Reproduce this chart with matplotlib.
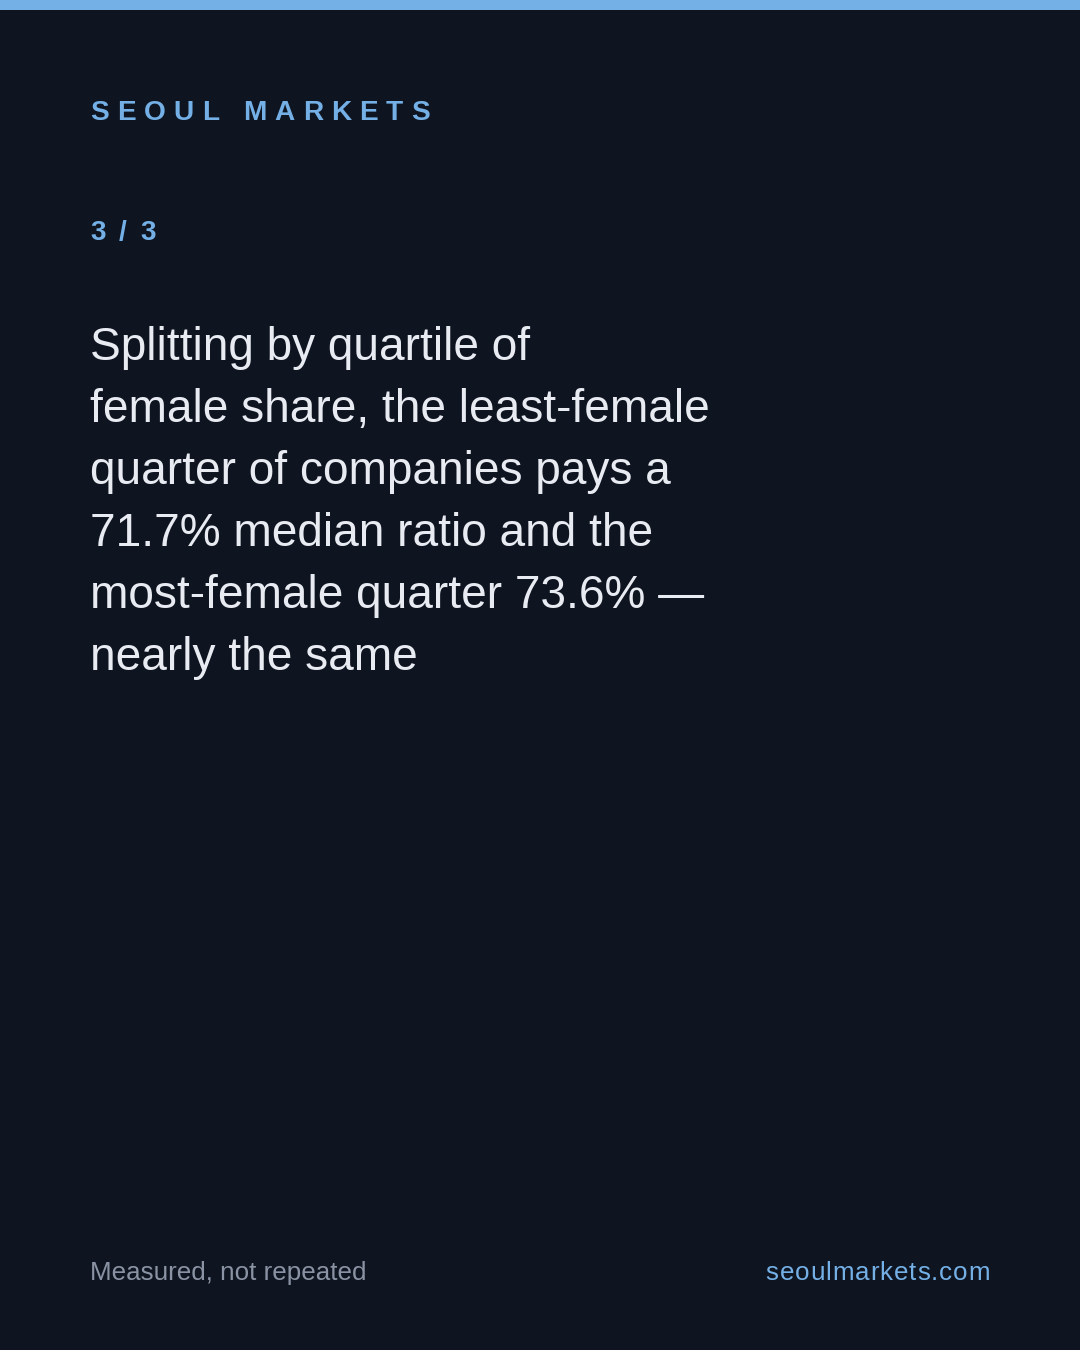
import matplotlib
matplotlib.use("Agg")
import matplotlib.pyplot as plt

# ---- content ----
brand = "SEOUL MARKETS"
page_label = "3 / 3"
body_lines = [
    "Splitting by quartile of",
    "female share, the least-female",
    "quarter of companies pays a",
    "71.7% median ratio and the",
    "most-female quarter 73.6% \u2014",
    "nearly the same",
]
footer_left = "Measured, not repeated"
footer_right = "seoulmarkets.com"

BG = "#0e1420"
ACCENT = "#74b0e6"
TEXT = "#e8ebf1"
MUTED = "#8a93a3"
FONT = "Liberation Sans"

W, H = 1080, 1350
fig = plt.figure(figsize=(W / 72, H / 72), dpi=72)
fig.patch.set_facecolor(BG)
ax = fig.add_axes([0, 0, 1, 1])
ax.set_xlim(0, W)
ax.set_ylim(H, 0)
ax.axis("off")
ax.set_facecolor(BG)

# top accent bar
ax.add_patch(plt.Rectangle((0, 0), W, 10, color=ACCENT, lw=0))

fig.canvas.draw()
renderer = fig.canvas.get_renderer()


def spaced_text(x, y, s, size, weight, color, spacing, ha="left"):
    """Draw text with letter spacing (in px) char by char."""
    widths = []
    for ch in s:
        if ch == " ":
            t = ax.text(0, 0, "a a", fontsize=size, fontweight=weight, family=FONT)
            t2 = ax.text(0, 0, "aa", fontsize=size, fontweight=weight, family=FONT)
            w = t.get_window_extent(renderer).width - t2.get_window_extent(renderer).width
            t.remove(); t2.remove()
        else:
            t = ax.text(0, 0, ch, fontsize=size, fontweight=weight, family=FONT)
            w = t.get_window_extent(renderer).width
            t.remove()
        widths.append(w)
    total = sum(widths) + spacing * (len(s) - 1)
    cx = x if ha == "left" else x - total
    for ch, w in zip(s, widths):
        if ch != " ":
            ax.text(cx, y, ch, fontsize=size, fontweight=weight, color=color,
                    family=FONT, va="baseline", ha="left")
        cx += w + spacing


spaced_text(90, 120, brand, 28, "bold", ACCENT, 8.1)
spaced_text(90, 240, page_label, 28, "bold", ACCENT, 2.8)

for i, line in enumerate(body_lines):
    ax.text(90, 360 + 62 * i, line, fontsize=46, color=TEXT, family=FONT,
            va="baseline", ha="left")

ax.text(90, 1280, footer_left, fontsize=26, color=MUTED, family=FONT,
        va="baseline", ha="left")
spaced_text(990, 1280, footer_right, 26, "normal", ACCENT, 0.9, ha="right")

fig.savefig("out.png", dpi=72, facecolor=BG)
